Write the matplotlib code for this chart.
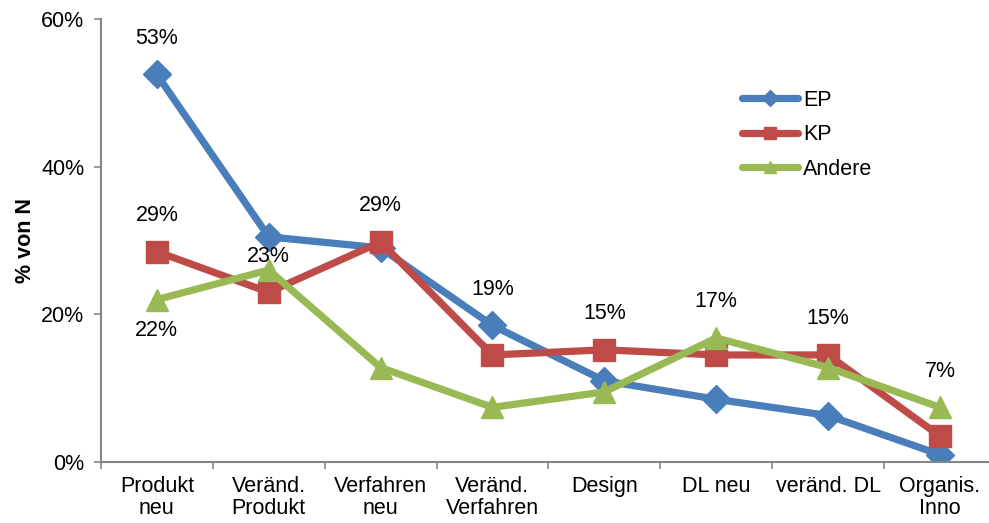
import numpy as np
import matplotlib.pyplot as plt
from matplotlib.lines import Line2D

plt.rcParams['font.family'] = ['Liberation Sans', 'DejaVu Sans']

categories = ["Produkt\nneu", "Veränd.\nProdukt", "Verfahren\nneu", "Veränd.\nVerfahren",
              "Design", "DL neu", "veränd. DL", "Organis.\nInno"]
ep = [52.5, 30.5, 29.0, 18.5, 11.0, 8.5, 6.3, 1.0]
kp = [28.5, 23.0, 29.8, 14.5, 15.2, 14.5, 14.5, 3.5]
andere = [22.0, 26.0, 12.8, 7.4, 9.5, 16.8, 12.8, 7.4]

# (series, category index, text, above?)
value_labels = [("EP", 0, "53%", True), ("KP", 0, "29%", True), ("Andere", 0, "22%", False),
                ("KP", 1, "23%", True), ("KP", 2, "29%", True), ("EP", 3, "19%", True),
                ("KP", 4, "15%", True), ("Andere", 5, "17%", True), ("KP", 6, "15%", True),
                ("Andere", 7, "7%", True)]

series = {"EP": (ep, "#4A7EBB", "D", 14),
          "KP": (kp, "#BE4B48", "s", 16),
          "Andere": (andere, "#98B954", "^", 16)}

fs = 15.5

fig = plt.figure(figsize=(9.89, 5.23), dpi=100)
ax = fig.add_axes([0.102, 0.1166, 0.905, 0.847])

x = np.arange(len(categories))
handles = []
for name, (vals, col, mk, ms) in series.items():
    ax.plot(x, vals, color=col, lw=5.2, marker=mk, markersize=ms, solid_joinstyle='round')
    handles.append(Line2D([0], [0], color=col, lw=5.2, marker=mk, markersize=8,
                          solid_capstyle='round', label=name))

for name, i, txt, above in value_labels:
    vals = series[name][0]
    ax.annotate(txt, (x[i], vals[i]), xytext=(0, 26 if above else -22),
                textcoords='offset points', ha='center', va='center', fontsize=fs)

ax.set_xlim(-0.5, len(categories) - 0.5)
ax.set_ylim(0, 60)
ax.set_yticks([0, 20, 40, 60])
ax.set_yticklabels(["0%", "20%", "40%", "60%"])
ax.set_xticks(x)
ax.set_xticklabels(categories, linespacing=1.05)
ax.set_xticks(np.arange(-0.5, len(categories) + 0.5, 1), minor=True)
ax.tick_params(axis='x', which='major', length=0, pad=10, labelsize=fs)
ax.tick_params(axis='x', which='minor', length=5, color='#868686', width=1.2)
ax.tick_params(axis='y', length=5, color='#868686', width=1.2, pad=7, labelsize=fs)

for s in ['top', 'right']:
    ax.spines[s].set_visible(False)
for s in ['left', 'bottom']:
    ax.spines[s].set_color('#868686')
    ax.spines[s].set_linewidth(1.5)

ax.set_ylabel("% von N", fontsize=fs, fontweight='bold', labelpad=4)

ax.legend(handles=handles, loc='upper left', bbox_to_anchor=(0.716, 0.84), frameon=False,
          fontsize=fs, handlelength=2.6, handletextpad=0.25, borderpad=0,
          borderaxespad=0, labelspacing=0.62)

plt.savefig("out.png", dpi=100)
